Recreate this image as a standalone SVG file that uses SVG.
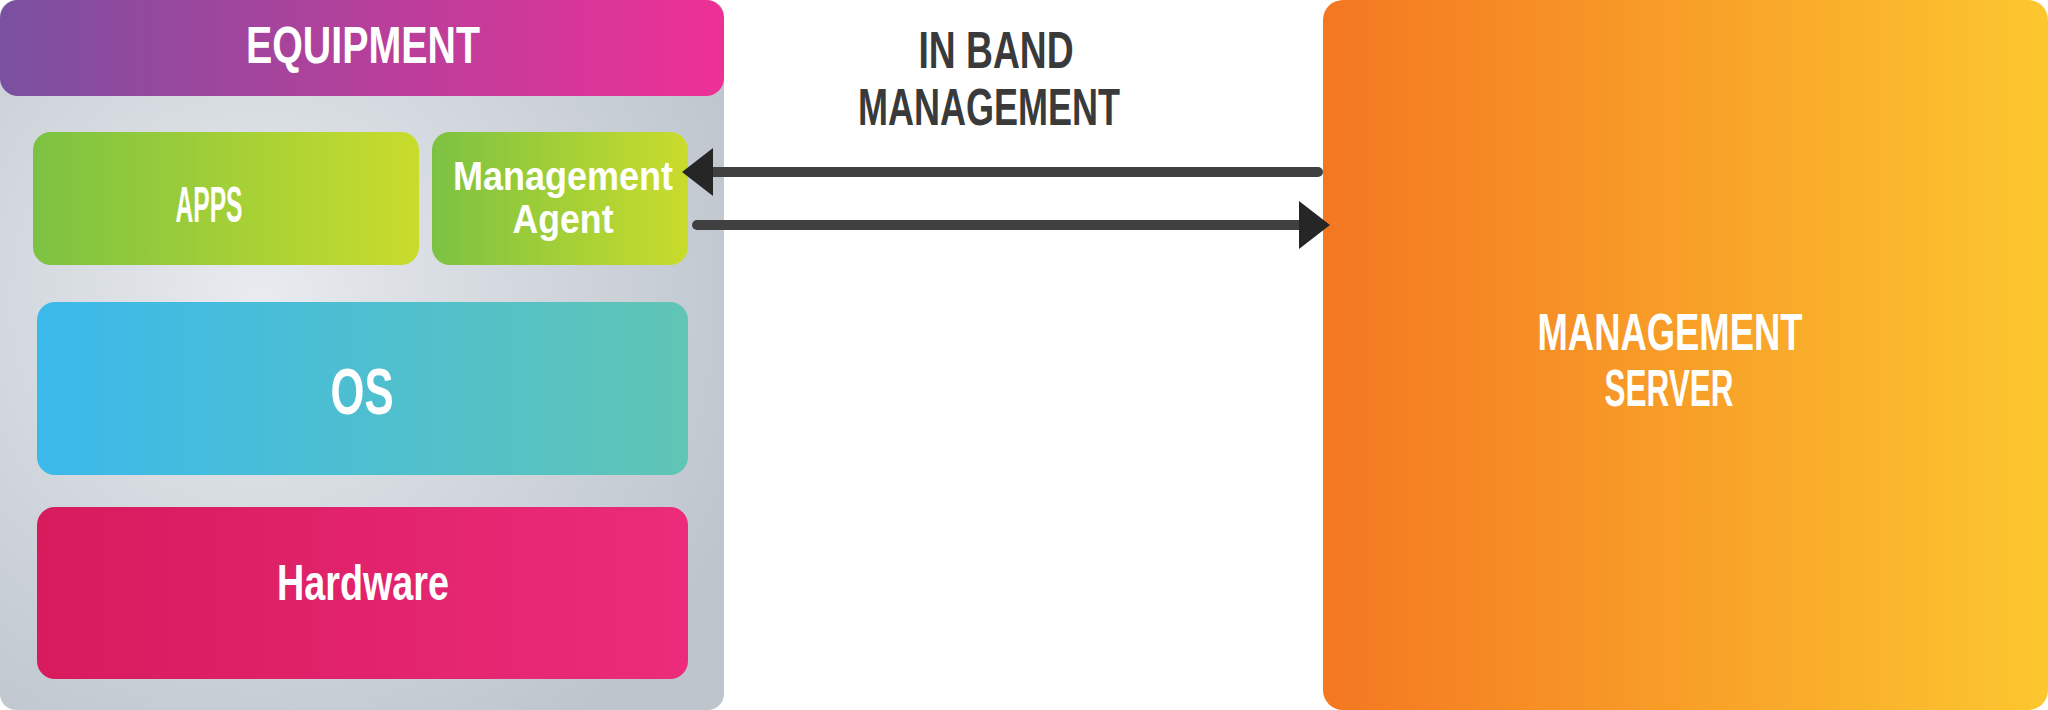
<svg xmlns="http://www.w3.org/2000/svg" width="2048" height="710" viewBox="0 0 2048 710">
<defs>
<linearGradient id="gHead" x1="0" y1="0" x2="1" y2="0"><stop offset="0" stop-color="#7A50A0"/><stop offset="1" stop-color="#EE3096"/></linearGradient>
<radialGradient id="gGray" cx="260" cy="300" r="520" gradientUnits="userSpaceOnUse"><stop offset="0" stop-color="#E8EBEF"/><stop offset="1" stop-color="#BEC5CD"/></radialGradient>
<linearGradient id="gGreen" x1="0" y1="0" x2="1" y2="0"><stop offset="0" stop-color="#7CC242"/><stop offset="1" stop-color="#C9DC2C"/></linearGradient>
<linearGradient id="gOS" x1="0" y1="0" x2="1" y2="0"><stop offset="0" stop-color="#3BB9EB"/><stop offset="1" stop-color="#60C5B5"/></linearGradient>
<linearGradient id="gHW" x1="0" y1="0" x2="1" y2="0"><stop offset="0" stop-color="#D71B5D"/><stop offset="1" stop-color="#EC2B7A"/></linearGradient>
<linearGradient id="gSrv" x1="0" y1="0" x2="1" y2="0"><stop offset="0" stop-color="#F47721"/><stop offset="1" stop-color="#FCC72F"/></linearGradient>
<marker id="ah" viewBox="0 0 31 48" refX="13" refY="24" markerWidth="31" markerHeight="48" markerUnits="userSpaceOnUse" orient="auto"><path d="M0,0 L31,24 L0,48 Z" fill="#262626"/></marker>
</defs>
<style>
text{font-family:"Liberation Sans Narrow","Liberation Sans",Arial,sans-serif;font-weight:bold;text-anchor:middle}
.w{fill:#FFFFFF}
.d{fill:#3A3A3A}
.conn{stroke:#404040;stroke-width:10;stroke-linecap:round;fill:none}
</style>
<rect width="2048" height="710" fill="#FFFFFF"/>
<g id="equipment">
<rect x="0" y="0" width="724" height="710" rx="16" fill="url(#gGray)"/>
<rect x="0" y="0" width="724" height="96" rx="18" fill="url(#gHead)"/>
<text class="w" x="363" y="63" font-size="52" textLength="234" lengthAdjust="spacingAndGlyphs">EQUIPMENT</text>
</g>
<g id="apps">
<rect x="33" y="132" width="386" height="133" rx="18" fill="url(#gGreen)"/>
<text class="w" x="209" y="222" font-size="50" textLength="67" lengthAdjust="spacingAndGlyphs">APPS</text>
</g>
<g id="agent">
<rect x="432" y="132" width="256" height="133" rx="18" fill="url(#gGreen)"/>
<text class="w" x="563" y="190" font-size="41" textLength="220" lengthAdjust="spacingAndGlyphs">Management</text>
<text class="w" x="563" y="233" font-size="41" textLength="101" lengthAdjust="spacingAndGlyphs">Agent</text>
</g>
<g id="os">
<rect x="37" y="302" width="651" height="173" rx="18" fill="url(#gOS)"/>
<text class="w" x="362" y="414" font-size="64" textLength="63" lengthAdjust="spacingAndGlyphs">OS</text>
</g>
<g id="hardware">
<rect x="37" y="507" width="651" height="172" rx="18" fill="url(#gHW)"/>
<text class="w" x="363" y="600" font-size="50" textLength="172" lengthAdjust="spacingAndGlyphs">Hardware</text>
</g>
<g id="server">
<rect x="1323" y="0" width="725" height="710" rx="20" fill="url(#gSrv)"/>
<text class="w" x="1670" y="350" font-size="52" textLength="265" lengthAdjust="spacingAndGlyphs">MANAGEMENT</text>
<text class="w" x="1669" y="406" font-size="52" textLength="129" lengthAdjust="spacingAndGlyphs">SERVER</text>
</g>
<g id="label">
<text class="d" x="996" y="68" font-size="52" textLength="155" lengthAdjust="spacingAndGlyphs">IN BAND</text>
<text class="d" x="989" y="125" font-size="52" textLength="262" lengthAdjust="spacingAndGlyphs">MANAGEMENT</text>
</g>
<g id="connectors">
<path class="conn" d="M1318,172 L700,172" marker-end="url(#ah)"/>
<path class="conn" d="M697,225 L1312,225" marker-end="url(#ah)"/>
</g>
</svg>
